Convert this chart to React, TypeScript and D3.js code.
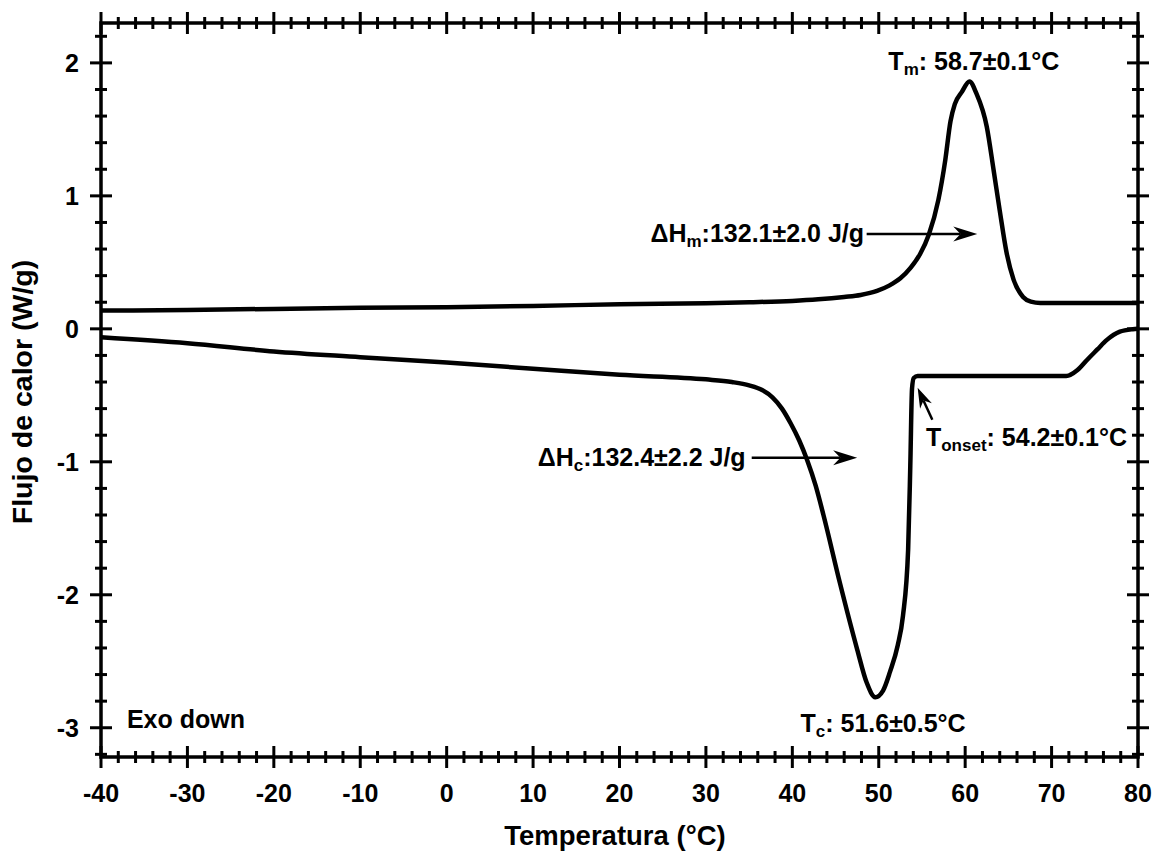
import React from 'react';
import * as d3 from 'd3';

// heating scan (upper curve)
const heatTemp = [-40, -30, -20, -10, 0, 10, 20, 30, 35, 40, 43, 46, 47.9, 49.8, 51.2, 52.5, 53.7, 54.8, 55.8, 56.9, 57.7, 58.3, 58.8, 59.6, 60.5, 61.3, 62.5, 63.3, 64.0, 64.8, 65.6, 66.7, 67.6, 68.7, 75, 80];
const heatFlow = [0.137, 0.142, 0.15, 0.158, 0.163, 0.172, 0.185, 0.193, 0.2, 0.21, 0.222, 0.24, 0.255, 0.285, 0.325, 0.38, 0.46, 0.565, 0.71, 0.97, 1.27, 1.56, 1.69, 1.78, 1.86, 1.77, 1.52, 1.19, 0.89, 0.57, 0.37, 0.24, 0.205, 0.195, 0.195, 0.195];

// cooling scan (lower curve)
const coolTemp = [-40, -30, -20, -10, 0, 10, 20, 30, 33, 35, 36.5, 37.7, 38.8, 39.8, 40.8, 41.7, 42.7, 43.6, 45.5, 47.5, 48.6, 49.6, 50.5, 51.3, 52.2, 52.8, 53.4, 53.65, 53.85, 54.05, 54.5, 60, 71.7, 73, 74.1, 75.3, 76.4, 77.9, 79.4, 80];
const coolFlow = [-0.063, -0.108, -0.17, -0.213, -0.254, -0.3, -0.346, -0.38, -0.40, -0.425, -0.46, -0.515, -0.6, -0.71, -0.84, -0.985, -1.18, -1.40, -1.91, -2.41, -2.66, -2.77, -2.72, -2.58, -2.38, -2.16, -1.66, -1.03, -0.45, -0.37, -0.355, -0.355, -0.355, -0.31, -0.234, -0.155, -0.083, -0.021, -0.003, 0.0];

const xTickLabels = [-40, -30, -20, -10, 0, 10, 20, 30, 40, 50, 60, 70, 80];
const yTickLabels = [-3, -2, -1, 0, 1, 2];

const W = 1157;
const H = 854;
const FONT = '"Liberation Sans", Arial, sans-serif';

const x = d3.scaleLinear().domain([-40, 80]).range([101, 1138]);
const y = d3.scaleLinear().domain([-3.22, 2.3]).range([757, 23]);

const xMinor = d3.range(-40, 80.01, 2);
const yMinor = d3.range(-3.2, 2.21, 0.2);

const line = d3.line<[number, number]>()
  .x(d => x(d[0]))
  .y(d => y(d[1]))
  .curve(d3.curveMonotoneX);

const heatPts = heatTemp.map((t, i) => [t, heatFlow[i]] as [number, number]);
const coolPts = coolTemp.map((t, i) => [t, coolFlow[i]] as [number, number]);

// arrow: tail (t1,q1) -> tip (t2,q2) in data units
function Arrow({ t1, q1, t2, q2, len = 24, half = 7.5 }: any) {
  const x1 = x(t1), y1 = y(q1), x2 = x(t2), y2 = y(q2);
  const dx = x2 - x1, dy = y2 - y1;
  const d = Math.hypot(dx, dy);
  const ux = dx / d, uy = dy / d;
  const px = -uy, py = ux;
  const bx = x2 - ux * len, by = y2 - uy * len;
  const nx = x2 - ux * len * 0.7, ny = y2 - uy * len * 0.7;
  const head = `M${x2},${y2}L${bx + px * half},${by + py * half}L${nx},${ny}L${bx - px * half},${by - py * half}Z`;
  return (
    <g>
      <line x1={x1} y1={y1} x2={nx} y2={ny} stroke="#000" strokeWidth={2.5} />
      <path d={head} fill="#000" />
    </g>
  );
}

const App: React.FC = () => {
  const sides = (
    <g stroke="#000" strokeWidth={3}>
      {xMinor.map(t => {
        const major = Math.abs(t % 10) < 1e-6;
        const s = major ? 11 : 6;
        return (
          <g key={'x' + t}>
            <line x1={x(t)} x2={x(t)} y1={757 - s} y2={757 + s} />
            <line x1={x(t)} x2={x(t)} y1={23 - s} y2={23 + s} />
          </g>
        );
      })}
      {yMinor.map(v => {
        const major = Math.abs(v - Math.round(v)) < 1e-6;
        const s = major ? 11 : 6;
        return (
          <g key={'y' + v.toFixed(1)}>
            <line x1={101 - s} x2={101 + s} y1={y(v)} y2={y(v)} />
            <line x1={1138 - s} x2={1138 + s} y1={y(v)} y2={y(v)} />
          </g>
        );
      })}
      <rect x={101} y={23} width={1037} height={734} fill="none" strokeWidth={3.5} />
    </g>
  );

  return (
    <svg width={W} height={H} style={{ position: 'absolute', left: 0, top: 0, background: '#fff' }}
      fontFamily={FONT} fontWeight="bold">
      <rect width={W} height={H} fill="#fff" />
      {sides}

      {xTickLabels.map(t => (
        <text key={'xl' + t} x={x(t)} y={802} textAnchor="middle" fontSize={25}>{t}</text>
      ))}
      {yTickLabels.map(v => (
        <text key={'yl' + v} x={79} y={y(v) + 9} textAnchor="end" fontSize={25}>{v}</text>
      ))}

      <text x={615} y={845} textAnchor="middle" fontSize={27.5}>Temperatura (°C)</text>
      <text transform={`translate(32, 392) rotate(-90)`} textAnchor="middle" fontSize={28.5}>Flujo de calor (W/g)</text>

      <path d={line(heatPts) || ''} fill="none" stroke="#000" strokeWidth={4.5} strokeLinejoin="round" />
      <path d={line(coolPts) || ''} fill="none" stroke="#000" strokeWidth={4.5} strokeLinejoin="round" />

      <g fontSize={25}>
        <text x={x(61.0)} y={y(1.945)} textAnchor="middle">
          T<tspan fontSize={17} dy={5}>m</tspan><tspan dy={-5}>: 58.7±0.1°C</tspan>
        </text>
        <text x={x(48.3)} y={y(0.655)} textAnchor="end">
          ΔH<tspan fontSize={17} dy={5}>m</tspan><tspan dy={-5}>:132.1±2.0 J/g</tspan>
        </text>
        <text x={x(34.6)} y={y(-1.03)} textAnchor="end">
          ΔH<tspan fontSize={17} dy={5}>c</tspan><tspan dy={-5}>:132.4±2.2 J/g</tspan>
        </text>
        <text x={x(55.46)} y={y(-0.883)}>
          T<tspan fontSize={17} dy={5}>onset</tspan><tspan dy={-5}>: 54.2±0.1°C</tspan>
        </text>
        <text x={x(50.5)} y={y(-3.035)} textAnchor="middle">
          T<tspan fontSize={17} dy={5}>c</tspan><tspan dy={-5}>: 51.6±0.5°C</tspan>
        </text>
        <text x={x(-37.0)} y={y(-3.005)}>Exo down</text>
      </g>

      <Arrow t1={48.6} q1={0.713} t2={61.4} q2={0.713} />
      <Arrow t1={35.3} q1={-0.97} t2={47.5} q2={-0.97} />
      <Arrow t1={56.2} q1={-0.684} t2={54.5} q2={-0.443} len={20} half={6.5} />
    </svg>
  );
};

export default App;
